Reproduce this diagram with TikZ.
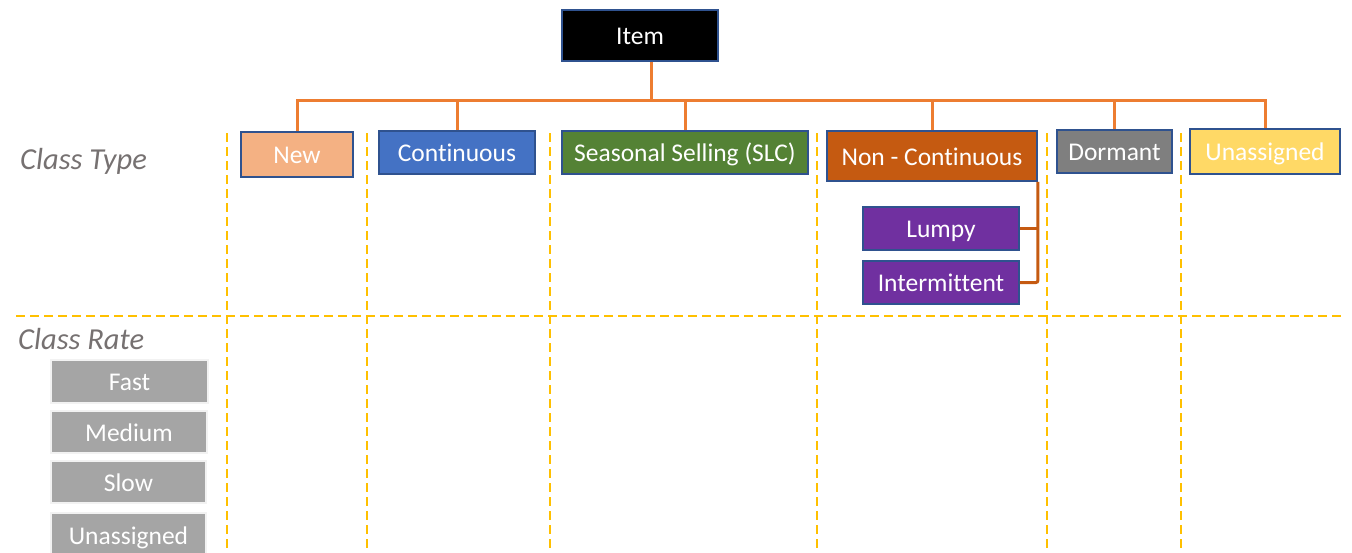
\documentclass[tikz,border=0pt]{standalone}
\usepackage{fontspec}
\setmainfont{Carlito}[Ligatures=NoCommon]
\definecolor{bordr}{HTML}{2F528F}
\definecolor{conn}{HTML}{ED7D31}
\definecolor{conndark}{HTML}{C55A11}
\definecolor{gold}{HTML}{FFC000}
\definecolor{cnew}{HTML}{F4B183}
\definecolor{ccont}{HTML}{4472C4}
\definecolor{cslc}{HTML}{548235}
\definecolor{cnonc}{HTML}{C55A11}
\definecolor{cdorm}{HTML}{7F7F7F}
\definecolor{cunas}{HTML}{FFD966}
\definecolor{cpurp}{HTML}{7030A0}
\definecolor{crate}{HTML}{A5A5A5}
\definecolor{lbl}{HTML}{767171}
\tikzset{
  box/.style={draw=bordr, line width=1.8pt, text=white, inner sep=0pt,
    text height=20.4pt, text depth=2pt,
    font=\fontsize{25.5}{30}\selectfont},
  ratebox/.style={draw=white!90!gray, line width=1.8pt, fill=crate, text=white, inner sep=0pt,
    text height=20.4pt, text depth=2pt,
    font=\fontsize{25.5}{30}\selectfont},
  connline/.style={draw=conn, line width=3pt},
  bracketline/.style={draw=conndark, line width=3pt},
  guide/.style={draw=gold, line width=2.8pt, dash pattern=on 9pt off 5pt},
  classlbl/.style={text=lbl, font=\fontsize{30.5}{34}\selectfont\itshape, anchor=west, inner sep=0pt}
}
\begin{document}
\begin{tikzpicture}[x=1pt,y=-1pt]
\useasboundingbox (0,0) rectangle (1352,552);
% guides
\foreach \gx in {227,367,550,817,1047,1181}{
  \draw[guide] (\gx,133) -- (\gx,556);
}
\draw[guide] (16,316) -- (1345,316);
% labels
\node[classlbl] (ctype) at (20,161) {Class Type};
\node[classlbl] (crate) at (18,339) {Class Rate};
% boxes
\node[box, fill=black, minimum width=156pt, minimum height=51pt] (item) at (640,35.5) {Item};
\node[box, fill=cnew, minimum width=112pt, minimum height=45pt] (new) at (297,154.5) {New};
\node[box, fill=ccont, minimum width=156pt, minimum height=43pt] (cont) at (457,152.5) {Continuous};
\node[box, fill=cslc, minimum width=246pt, minimum height=43pt] (slc) at (685,152.5) {Seasonal Selling (SLC)};
\node[box, fill=cnonc, minimum width=210pt, minimum height=50pt] (nonc) at (932,156) {Non - Continuous};
\node[box, fill=cdorm, minimum width=115pt, minimum height=43pt] (dorm) at (1114.5,151.5) {Dormant};
\node[box, fill=cunas, minimum width=150pt, minimum height=45pt] (unas) at (1265,151.5) {Unassigned};
\node[box, fill=cpurp, minimum width=156pt, minimum height=43pt] (lumpy) at (941,228.5) {Lumpy};
\node[box, fill=cpurp, minimum width=156pt, minimum height=43pt] (inter) at (941,282.5) {Intermittent};
\node[ratebox, minimum width=157pt, minimum height=43pt] (fast) at (129.5,381.5) {Fast};
\node[ratebox, minimum width=156pt, minimum height=42pt] (medium) at (129,432) {Medium};
\node[ratebox, minimum width=155pt, minimum height=42pt] (slow) at (128.5,482) {Slow};
\node[ratebox, minimum width=155pt, minimum height=44pt] (unasr) at (128.5,535) {Unassigned};
% connectors
\coordinate (busy) at (0,100);
\coordinate (stem) at (651,0);
\draw[connline] (item.south -| stem) -- (stem |- busy);
\draw[connline] (new.north) -- (new.north |- busy) -- (unas.north |- busy) -- (unas.north);
\draw[connline] (cont.north) -- (cont.north |- busy);
\draw[connline] (slc.north) -- (slc.north |- busy);
\draw[connline] (nonc.north) -- (nonc.north |- busy);
\draw[connline] (dorm.north) -- (dorm.north |- busy);
\draw[bracketline, rounded corners=2pt] (nonc.south east) -- (nonc.south east |- inter.east) -- (inter.east);
\draw[bracketline] (lumpy.east) -- (lumpy.east -| nonc.south east);
\end{tikzpicture}
\end{document}
